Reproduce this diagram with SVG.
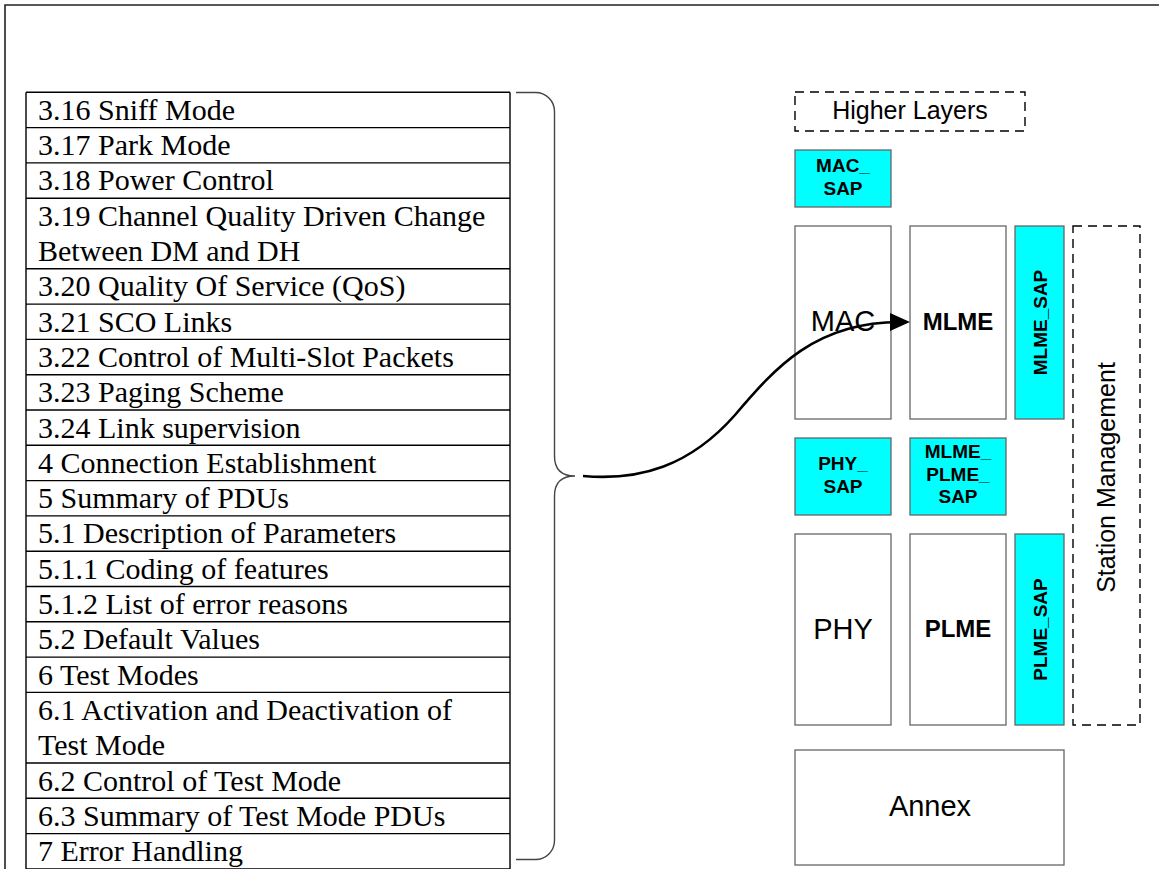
<svg xmlns="http://www.w3.org/2000/svg" width="1159" height="869" viewBox="0 0 1159 869">
<style>
.toc{font-family:"Liberation Serif","Times New Roman",serif;font-size:30px;fill:#000}
.row{stroke:#000;stroke-width:1.4;fill:none}
.blk{fill:#fff;stroke:#666;stroke-width:1.3}
.sap{fill:#00ffff;stroke:#666;stroke-width:1.3}
.dash{fill:none;stroke:#000;stroke-width:1.4;stroke-dasharray:9 6}
.lbl{font-family:"Liberation Sans",Arial,sans-serif;fill:#000;text-anchor:middle}
.big{font-size:29px}
.bold{font-size:24px;font-weight:bold}
.small{font-size:19px;font-weight:bold}
.mid{font-size:25px}
</style>
<defs>
<marker id="arr" viewBox="0 0 20 20" refX="10" refY="10" markerWidth="20" markerHeight="20" markerUnits="userSpaceOnUse" orient="auto">
<path d="M0,1 L20,10 L0,19 z" fill="#000"/>
</marker>
</defs>
<rect width="1159" height="869" fill="#fff"/>
<g id="frame">
<path d="M5,869 V5 H1159" fill="none" stroke="#222" stroke-width="1.6"/>
</g>
<g id="toc-table">
<path class="row" d="M26,92.3 V869 M510,92.3 V869"/>
<path class="row" d="M26,92.3 H510 M26,127.6 H510 M26,162.9 H510 M26,198.2 H510 M26,268.8 H510 M26,304.1 H510 M26,339.4 H510 M26,374.7 H510 M26,410 H510 M26,445.3 H510 M26,480.6 H510 M26,515.9 H510 M26,551.2 H510 M26,586.5 H510 M26,621.8 H510 M26,657.1 H510 M26,692.4 H510 M26,763 H510 M26,798.3 H510 M26,833.6 H510 M26,868.9 H510"/>
<text class="toc" x="38" y="119.8">3.16 Sniff Mode</text>
<text class="toc" x="38" y="155.1">3.17 Park Mode</text>
<text class="toc" x="38" y="190.4">3.18 Power Control</text>
<text class="toc" x="38" y="225.7">3.19 Channel Quality Driven Change</text>
<text class="toc" x="38" y="261">Between DM and DH</text>
<text class="toc" x="38" y="296.3">3.20 Quality Of Service (QoS)</text>
<text class="toc" x="38" y="331.6">3.21 SCO Links</text>
<text class="toc" x="38" y="366.9">3.22 Control of Multi-Slot Packets</text>
<text class="toc" x="38" y="402.2">3.23 Paging Scheme</text>
<text class="toc" x="38" y="437.5">3.24 Link supervision</text>
<text class="toc" x="38" y="472.8">4 Connection Establishment</text>
<text class="toc" x="38" y="508.1">5 Summary of PDUs</text>
<text class="toc" x="38" y="543.4">5.1 Description of Parameters</text>
<text class="toc" x="38" y="578.7">5.1.1 Coding of features</text>
<text class="toc" x="38" y="614">5.1.2 List of error reasons</text>
<text class="toc" x="38" y="649.3">5.2 Default Values</text>
<text class="toc" x="38" y="684.6">6 Test Modes</text>
<text class="toc" x="38" y="719.9">6.1 Activation and Deactivation of</text>
<text class="toc" x="38" y="755.2">Test Mode</text>
<text class="toc" x="38" y="790.5">6.2 Control of Test Mode</text>
<text class="toc" x="38" y="825.8">6.3 Summary of Test Mode PDUs</text>
<text class="toc" x="38" y="861.1">7 Error Handling</text>
</g>
<g id="higher-layers">
<rect class="dash" x="795" y="92" width="230" height="39"/>
<text class="lbl mid" x="910" y="119">Higher Layers</text>
</g>
<g id="mac-sap">
<rect class="sap" x="795" y="150" width="96" height="57"/>
<text class="lbl small" x="843" y="172.3">MAC_</text>
<text class="lbl small" x="843" y="195">SAP</text>
</g>
<g id="mac">
<rect class="blk" x="795" y="226" width="96" height="193"/>
<text class="lbl big" x="843" y="331">MAC</text>
</g>
<g id="mlme">
<rect class="blk" x="910" y="226" width="96" height="193"/>
<text class="lbl bold" x="958" y="329.5">MLME</text>
</g>
<g id="mlme-sap">
<rect class="sap" x="1015" y="226" width="49" height="193"/>
<text class="lbl small" transform="translate(1046.5,322.5) rotate(-90)">MLME_SAP</text>
</g>
<g id="station-management">
<rect class="dash" x="1073" y="226" width="67" height="499"/>
<text class="lbl mid" transform="translate(1115,477.5) rotate(-90)">Station Management</text>
</g>
<g id="phy-sap">
<rect class="sap" x="795" y="438" width="96" height="77"/>
<text class="lbl small" x="843" y="470">PHY_</text>
<text class="lbl small" x="843" y="492.7">SAP</text>
</g>
<g id="mlme-plme-sap">
<rect class="sap" x="910" y="438" width="96" height="77"/>
<text class="lbl small" x="958" y="458.3">MLME_</text>
<text class="lbl small" x="958" y="481">PLME_</text>
<text class="lbl small" x="958" y="503.3">SAP</text>
</g>
<g id="phy">
<rect class="blk" x="795" y="534" width="96" height="191"/>
<text class="lbl big" x="843" y="638.7">PHY</text>
</g>
<g id="plme">
<rect class="blk" x="910" y="534" width="96" height="191"/>
<text class="lbl bold" x="958" y="636.5">PLME</text>
</g>
<g id="plme-sap">
<rect class="sap" x="1015" y="534" width="49" height="191"/>
<text class="lbl small" transform="translate(1046.5,629.5) rotate(-90)">PLME_SAP</text>
</g>
<g id="annex">
<rect class="blk" x="795" y="750" width="269" height="115"/>
<text class="lbl big" x="930" y="815.7">Annex</text>
</g>
<g id="connectors">
<path d="M516,92.5 H535.5 A19,19 0 0 1 554.5,111.5 V456 Q554.5,476 575,476 Q554.5,476 554.5,496 V840.5 A19,19 0 0 1 535.5,859.5 H516" fill="none" stroke="#444" stroke-width="1.4"/>
<path d="M583,476 C640,481 690,466 735,415 C775,368 815,322 900,322" fill="none" stroke="#000" stroke-width="2.6" marker-end="url(#arr)"/>
</g>
</svg>
